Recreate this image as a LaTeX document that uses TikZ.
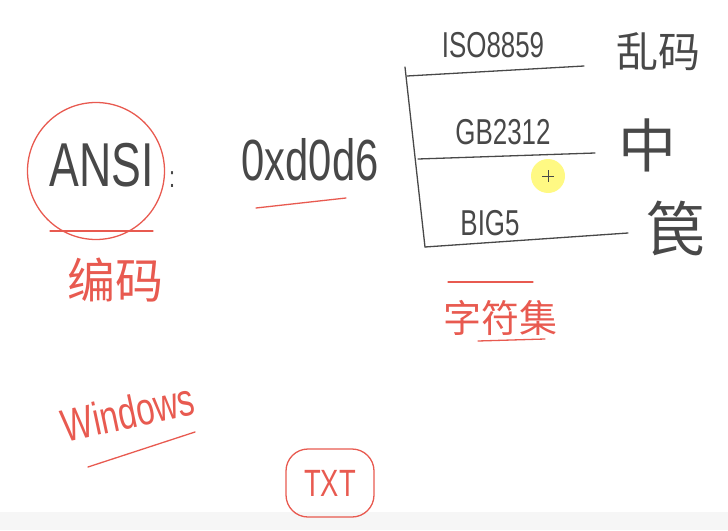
\documentclass[tikz,border=0pt]{standalone}
\usepackage{fontspec}
\newfontfamily\hand[FakeStretch=0.72]{Liberation Sans}
\newfontfamily\cjk{Noto Sans CJK SC}
\usetikzlibrary{positioning, calc}
\definecolor{pen}{RGB}{72,72,72}
\definecolor{redpen}{RGB}{232,90,80}

\begin{document}
\begin{tikzpicture}[
    x=1pt, y=-1pt,
    ink/.style={text=pen, inner sep=0pt},
    redink/.style={text=redpen, inner sep=0pt},
    rule/.style={draw=pen, line width=1.3pt, line cap=round},
    redrule/.style={draw=redpen, line width=1.3pt, line cap=round}
]
    \useasboundingbox (0,0) rectangle (728,530);
    \fill[gray!7] (0,512) rectangle (728,530);

    % ANSI and its code
    \node (ansi) [ink, font=\hand\fontsize{62}{62}\selectfont] at (102,165) {ANSI};
    \node (ring) [circle, draw=redpen, line width=1.3pt, minimum size=137pt] at (96,171) {};
    \draw [redrule] (50,231) -- (153,231);
    \node (colon) [ink, font=\hand\fontsize{30}{30}\selectfont] at (172,180) {:};
    \node (code) [ink, font=\hand\fontsize{58}{58}\selectfont] at (310,160) {0xd0d6};
    \draw [redrule] (256,208) -- (346,198);
    \node (bianma) [redink, font=\cjk\fontsize{48}{48}\selectfont] at (115,280) {编码};

    % Character sets
    \draw [rule] (405,67) -- (425,247);
    \draw [rule] (407,76) -- (584,66);
    \draw [rule] (418,159) -- (595,153);
    \draw [rule] (425,247) -- (628,233);
    \node (iso) [ink, font=\hand\fontsize{36}{36}\selectfont] at (493,45) {ISO8859};
    \node (gb) [ink, font=\hand\fontsize{36}{36}\selectfont] at (503,132) {GB2312};
    \node (big) [ink, font=\hand\fontsize{36}{36}\selectfont] at (490,223) {BIG5};
    \node (luanma) [ink, font=\cjk\fontsize{42}{42}\selectfont] at (658,52) {乱码};
    \node (zhong) [ink, font=\cjk\fontsize{58}{58}\selectfont] at (647,145) {中};
    \node (fan) [ink, font=\cjk\fontsize{60}{60}\selectfont] at (675,228) {笢};
    \node (zifuji) [redink, font=\cjk\fontsize{38}{38}\selectfont] at (500,318) {字符集};
    \draw [redrule] (448,282) -- (533,282);
    \draw [redrule] (478,341) -- (545,339);

    % cursor
    \fill [yellow!65, opacity=0.75] (548,176) circle (17);
    \draw [pen, line width=0.6pt] (542,176) -- (554,176) (548,170) -- (548,182);

    % Windows / TXT
    \node (win) [redink, rotate=12, font=\hand\fontsize{46}{46}\selectfont] at (128,412) {Windows};
    \draw [redrule] (88,467) -- (195,432);
    \node (txt) [redink, draw=redpen, line width=1.3pt, rounded corners=22pt, minimum width=88pt, minimum height=68pt, font=\hand\fontsize{38}{38}\selectfont] at (330,483) {TXT};
\end{tikzpicture}
\end{document}
